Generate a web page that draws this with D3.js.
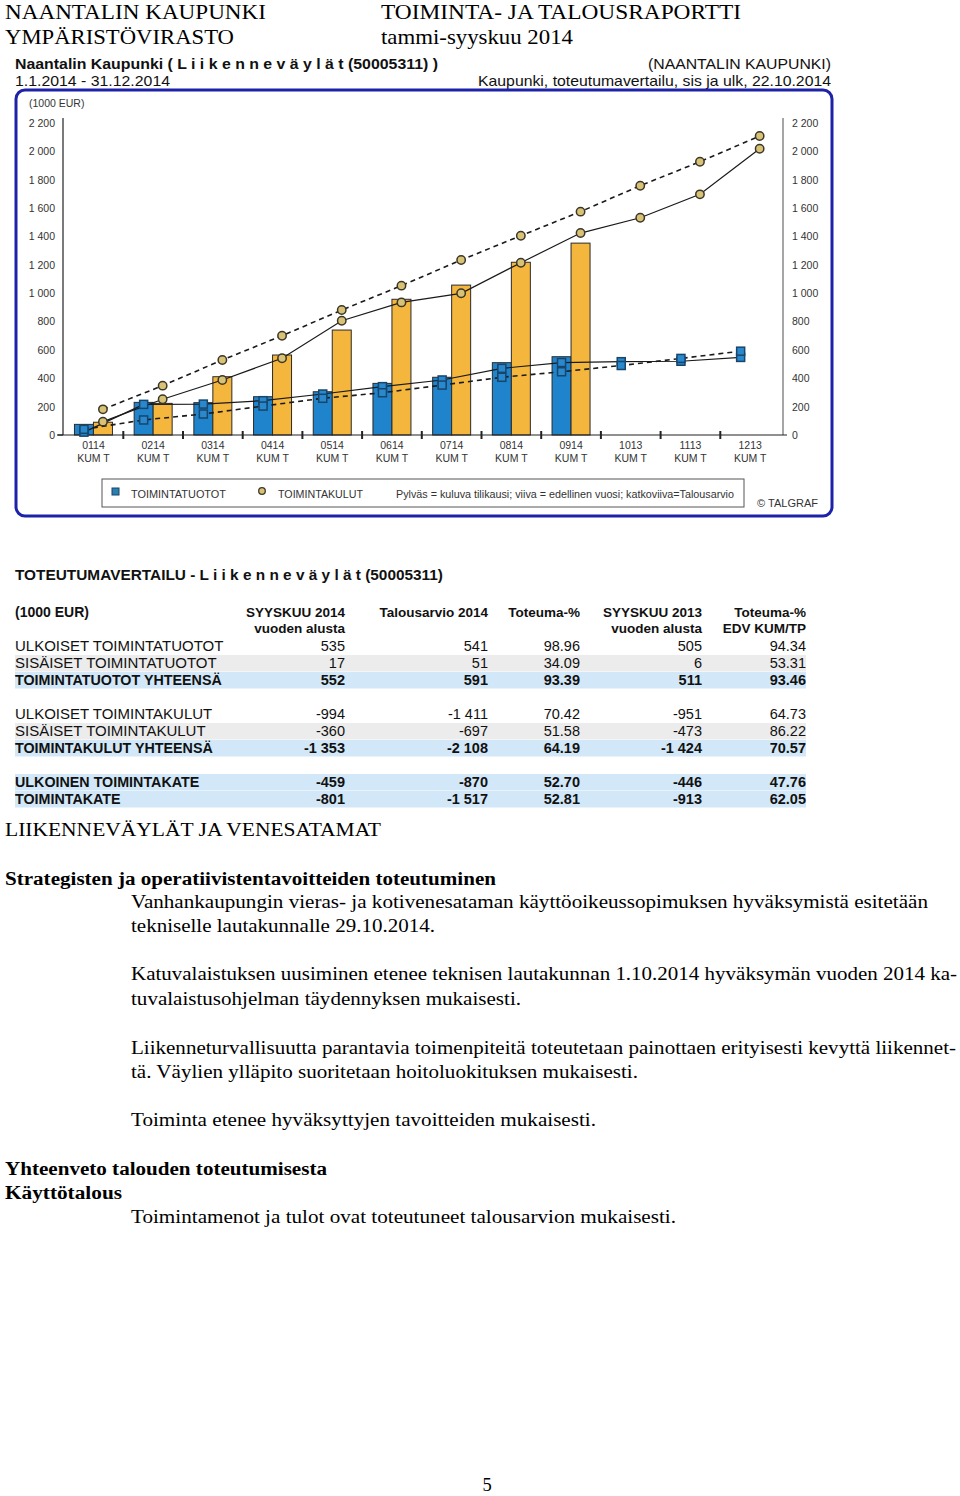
<!DOCTYPE html>
<html lang="fi">
<head>
<meta charset="UTF-8">
<title>Liikenneväylät - toiminta- ja talousraportti</title>
<style>
  body { margin: 0; background: #fff; }
  svg { display: block; }
  .serif { font-family: "Liberation Serif", "Times New Roman", serif; fill: #000; }
  .sans { font-family: "Liberation Sans", Arial, sans-serif; }
  .axis text { font-family: "Liberation Sans", Arial, sans-serif; font-size: 10.5px; fill: #333; }
</style>
</head>
<body>
<svg id="page" width="960" height="1496"></svg>
<script src="https://cdn.jsdelivr.net/npm/d3@7"></script>
<script>
// --- chart data (1000 EUR, cumulative) ---
const months = ["0114","0214","0314","0414","0514","0614","0714","0814","0914","1013","1113","1213"];
const tuototBars = [75, 230, 228, 270, 305, 364, 407, 510, 552];
const kulutBars = [90, 223, 411, 564, 740, 957, 1057, 1218, 1353];
const tuototPrevYear = [20, 216, 218, 242, 289, 341, 388, 470, 511, 517, 520, 547];
const tuototBudget = [40, 106, 148, 204, 259, 298, 352, 407, 446, 490, 540, 591];
const kulutPrevYear = [94, 252, 388, 541, 806, 935, 999, 1215, 1424, 1532, 1697, 2018];
const kulutBudget = [181, 348, 529, 700, 881, 1053, 1234, 1405, 1575, 1758, 1927, 2108];
const yTicks = [0, 200, 400, 600, 800, 1000, 1200, 1400, 1600, 1800, 2000, 2200];

// --- table data ---
const rowLabels = ["ULKOISET TOIMINTATUOTOT", "SISÄISET TOIMINTATUOTOT", "TOIMINTATUOTOT YHTEENSÄ",
  "ULKOISET TOIMINTAKULUT", "SISÄISET TOIMINTAKULUT", "TOIMINTAKULUT YHTEENSÄ",
  "ULKOINEN TOIMINTAKATE", "TOIMINTAKATE"];
const rowGroup = [0, 0, 0, 1, 1, 1, 2, 2];
const rowKind = ["plain", "sub", "total", "plain", "sub", "total", "total", "total"];
const syyskuu2014 = [535, 17, 552, -994, -360, -1353, -459, -801];
const talousarvio2014 = [541, 51, 591, -1411, -697, -2108, -870, -1517];
const toteumaPct = [98.96, 34.09, 93.39, 70.42, 51.58, 64.19, 52.70, 52.81];
const syyskuu2013 = [505, 6, 511, -951, -473, -1424, -446, -913];
const toteumaEdvPct = [94.34, 53.31, 93.46, 64.73, 86.22, 70.57, 47.76, 62.05];

const locale = d3.formatLocale({decimal: ".", thousands: " ", grouping: [3], currency: ["", ""], minus: "-"});
const fmtInt = locale.format(",d");
const fmtPct = locale.format(".2f");

const svg = d3.select("#page");
svg.append("rect").attr("width", 960).attr("height", 1496).attr("fill", "#fff");

function text(parent, x, y, str, o = {}) {
  const t = parent.append("text")
    .attr("x", x).attr("y", y)
    .attr("class", o.cls || "sans")
    .attr("font-size", o.size || 14)
    .attr("font-weight", o.bold ? "bold" : null)
    .attr("text-anchor", o.anchor || "start")
    .attr("fill", o.fill || "#000")
    .text(str);
  if (o.len) t.attr("textLength", o.len).attr("lengthAdjust", "spacingAndGlyphs");
  return t;
}

// --- page header ---
text(svg, 5, 19, "NAANTALIN KAUPUNKI", {cls: "serif", size: 21.5, len: 261});
text(svg, 5, 44, "YMPÄRISTÖVIRASTO", {cls: "serif", size: 21.5, len: 229});
text(svg, 381, 19, "TOIMINTA- JA TALOUSRAPORTTI", {cls: "serif", size: 21.5, len: 360});
text(svg, 381, 44, "tammi-syyskuu 2014", {cls: "serif", size: 21.5, len: 192});

// --- chart titles ---
text(svg, 15, 69, "Naantalin Kaupunki ( L i i k e n n e v ä y l ä t (50005311) )", {size: 14.5, bold: true, fill: "#111", len: 423});
text(svg, 15, 86, "1.1.2014 - 31.12.2014", {size: 14.5, fill: "#111", len: 155});
text(svg, 831, 69, "(NAANTALIN KAUPUNKI)", {size: 14.5, fill: "#111", anchor: "end", len: 183});
text(svg, 831, 86, "Kaupunki, toteutumavertailu, sis ja ulk, 22.10.2014", {size: 14.5, fill: "#111", anchor: "end", len: 353});

// --- chart frame ---
svg.append("rect")
  .attr("x", 16).attr("y", 90).attr("width", 816).attr("height", 426)
  .attr("rx", 9).attr("fill", "#fff")
  .attr("stroke", "#1d22a8").attr("stroke-width", 3);

const chart = svg.append("g");

const x = d3.scaleBand().domain(months).range([63.6, 780]).padding(0);
const y = d3.scaleLinear().domain([0, 2200]).range([435, 123]);
const series = d3.scaleBand().domain(["tuotot", "kulut"]).range([-19, 19]);
const cx = m => x(m) + x.bandwidth() / 2;

text(chart, 29, 107, "(1000 EUR)", {size: 10.5, fill: "#333"});

// y axes
const yLeft = chart.append("g").attr("class", "axis")
  .attr("transform", "translate(63,0)")
  .call(d3.axisLeft(y).tickValues(yTicks).tickSize(0).tickPadding(8).tickFormat(fmtInt));
yLeft.select(".domain").remove();
const yRight = chart.append("g").attr("class", "axis")
  .attr("transform", "translate(783,0)")
  .call(d3.axisRight(y).tickValues(yTicks).tickSize(0).tickPadding(9).tickFormat(fmtInt));
yRight.select(".domain").remove();

chart.append("line").attr("x1", 63).attr("x2", 63).attr("y1", 118).attr("y2", y(0))
  .attr("stroke", "#222").attr("stroke-width", 1.2);
chart.append("line").attr("x1", 783).attr("x2", 783).attr("y1", 118).attr("y2", y(0))
  .attr("stroke", "#888").attr("stroke-width", 1.5);

// bars
const barData = [];
tuototBars.forEach((v, i) => barData.push({m: months[i], s: "tuotot", v}));
kulutBars.forEach((v, i) => barData.push({m: months[i], s: "kulut", v}));
chart.selectAll("rect.bar").data(barData).enter().append("rect")
  .attr("class", "bar")
  .attr("x", d => cx(d.m) + series(d.s))
  .attr("width", series.bandwidth())
  .attr("y", d => y(d.v))
  .attr("height", d => y(0) - y(d.v))
  .attr("fill", d => d.s === "tuotot" ? "#1f84cc" : "#f5b63e")
  .attr("stroke", "#2b2b2b").attr("stroke-width", 1);

// x axis
chart.append("line").attr("x1", 58).attr("x2", 787).attr("y1", y(0)).attr("y2", y(0))
  .attr("stroke", "#222").attr("stroke-width", 1.2);
const boundaries = d3.range(1, 12).map(i => x.range()[0] + i * x.step());
chart.selectAll("line.xtick").data(boundaries).enter().append("line")
  .attr("class", "xtick")
  .attr("x1", d => d).attr("x2", d => d)
  .attr("y1", y(0) - 4).attr("y2", y(0) + 4)
  .attr("stroke", "#222").attr("stroke-width", 2);
chart.append("line").attr("x1", 57).attr("x2", 63).attr("y1", y(0)).attr("y2", y(0))
  .attr("stroke", "#222").attr("stroke-width", 1.2);

const xAxis = chart.append("g").attr("class", "axis")
  .attr("transform", `translate(0,${y(0)})`)
  .call(d3.axisBottom(x).tickSize(0).tickPadding(7));
xAxis.select(".domain").remove();
xAxis.selectAll(".tick text").each(function (d) {
  const t = d3.select(this).text(null);
  t.append("tspan").attr("x", 0).text(d);
  t.append("tspan").attr("x", 0).attr("dy", "1.15em").text("KUM T");
});

// lines (solid = previous year, dashed = budget)
const lineFor = off => d3.line().x((d, i) => cx(months[i]) + off).y(d => y(d));
const offT = series("tuotot") + series.bandwidth() / 2;
const offK = series("kulut") + series.bandwidth() / 2;
const lines = [
  {v: tuototPrevYear, off: offT, dash: null},
  {v: tuototBudget, off: offT, dash: "5,4"},
  {v: kulutPrevYear, off: offK, dash: null},
  {v: kulutBudget, off: offK, dash: "5,4"}
];
lines.forEach(l => {
  chart.append("path").datum(l.v)
    .attr("d", lineFor(l.off))
    .attr("fill", "none")
    .attr("stroke", "#1a1a1a")
    .attr("stroke-width", l.dash ? 1.6 : 1.2)
    .attr("stroke-dasharray", l.dash);
});

// markers
[tuototPrevYear, tuototBudget].forEach(arr => {
  chart.append("g").selectAll("rect").data(arr).enter().append("rect")
    .attr("x", (d, i) => cx(months[i]) + offT - 4)
    .attr("y", d => y(d) - 4)
    .attr("width", 8).attr("height", 8)
    .attr("fill", "#2a88cc").attr("stroke", "#17456b").attr("stroke-width", 1.5);
});
[kulutPrevYear, kulutBudget].forEach(arr => {
  chart.append("g").selectAll("circle").data(arr).enter().append("circle")
    .attr("cx", (d, i) => cx(months[i]) + offK)
    .attr("cy", d => y(d))
    .attr("r", 4.2)
    .attr("fill", "#d8c276").attr("stroke", "#3b3626").attr("stroke-width", 1.5);
});

// legend
chart.append("rect").attr("x", 102).attr("y", 479).attr("width", 642).attr("height", 28)
  .attr("fill", "none").attr("stroke", "#555").attr("stroke-width", 1);
chart.append("rect").attr("x", 112).attr("y", 488).attr("width", 7).attr("height", 7)
  .attr("fill", "#2a7fb0").attr("stroke", "#17456b").attr("stroke-width", 1);
text(chart, 131, 498, "TOIMINTATUOTOT", {size: 10.5, fill: "#333", len: 95});
chart.append("circle").attr("cx", 262).attr("cy", 491).attr("r", 3.3)
  .attr("fill", "#d8c276").attr("stroke", "#3b3626").attr("stroke-width", 1.3);
text(chart, 278, 498, "TOIMINTAKULUT", {size: 10.5, fill: "#333", len: 85});
text(chart, 396, 498, "Pylväs = kuluva tilikausi; viiva = edellinen vuosi; katkoviiva=Talousarvio", {size: 10, fill: "#333", len: 338});
text(chart, 757, 507, "© TALGRAF", {size: 10.5, fill: "#333", len: 61});

// --- table ---
const table = svg.append("g");
text(table, 15, 580, "TOTEUTUMAVERTAILU - L i i k e n n e v ä y l ä t (50005311)", {size: 14.5, bold: true, fill: "#111", len: 428});
text(table, 15, 617, "(1000 EUR)", {size: 14, bold: true, fill: "#111"});

const columns = [
  {head: ["SYYSKUU 2014", "vuoden alusta"], right: 345, vals: syyskuu2014, fmt: fmtInt},
  {head: ["Talousarvio 2014"], right: 488, vals: talousarvio2014, fmt: fmtInt},
  {head: ["Toteuma-%"], right: 580, vals: toteumaPct, fmt: fmtPct},
  {head: ["SYYSKUU 2013", "vuoden alusta"], right: 702, vals: syyskuu2013, fmt: fmtInt},
  {head: ["Toteuma-%", "EDV KUM/TP"], right: 806, vals: toteumaEdvPct, fmt: fmtPct}
];
columns.forEach(c => {
  c.head.forEach((h, j) => text(table, c.right, 617 + j * 16, h, {size: 13.5, bold: true, fill: "#111", anchor: "end"}));
});

const rowY = i => 651 + 17 * (i + rowGroup[i]);
rowLabels.forEach((lbl, i) => {
  const kind = rowKind[i];
  if (kind !== "plain") {
    table.append("rect")
      .attr("x", 15).attr("y", rowY(i) - 13).attr("width", 791).attr("height", 16.5)
      .attr("fill", kind === "sub" ? "#ececec" : "#d2e8f8");
  }
});
rowLabels.forEach((lbl, i) => {
  const bold = rowKind[i] === "total";
  text(table, 15, rowY(i), lbl, {size: bold ? 14.3 : 15, bold, fill: "#111"});
  columns.forEach(c => {
    text(table, c.right, rowY(i), c.fmt(c.vals[i]), {size: 14.5, bold, fill: "#111", anchor: "end"});
  });
});

// --- body text ---
const body = svg.append("g");
const paragraphs = [
  {t: "LIIKENNEVÄYLÄT JA VENESATAMAT", x: 5, y: 836, w: 376},
  {t: "Strategisten ja operatiivistentavoitteiden toteutuminen", x: 5, y: 885, w: 491, b: true},
  {t: "Vanhankaupungin vieras- ja kotivenesataman käyttöoikeussopimuksen hyväksymistä esitetään", x: 131, y: 908, w: 797},
  {t: "tekniselle lautakunnalle 29.10.2014.", x: 131, y: 932, w: 304},
  {t: "Katuvalaistuksen uusiminen etenee teknisen lautakunnan 1.10.2014 hyväksymän vuoden 2014 ka-", x: 131, y: 980, w: 826},
  {t: "tuvalaistusohjelman täydennyksen mukaisesti.", x: 131, y: 1005, w: 390},
  {t: "Liikenneturvallisuutta parantavia toimenpiteitä toteutetaan painottaen erityisesti kevyttä liikennet-", x: 131, y: 1054, w: 825},
  {t: "tä. Väylien ylläpito suoritetaan hoitoluokituksen mukaisesti.", x: 131, y: 1078, w: 507},
  {t: "Toiminta etenee hyväksyttyjen tavoitteiden mukaisesti.", x: 131, y: 1126, w: 465},
  {t: "Yhteenveto talouden toteutumisesta", x: 5, y: 1175, w: 322, b: true},
  {t: "Käyttötalous", x: 5, y: 1199, w: 117, b: true},
  {t: "Toimintamenot ja tulot ovat toteutuneet talousarvion mukaisesti.", x: 131, y: 1223, w: 545}
];
paragraphs.forEach(p => text(body, p.x, p.y, p.t, {cls: "serif", size: 18.5, bold: p.b, len: p.w}));
text(body, 487, 1491, "5", {cls: "serif", size: 18.5, anchor: "middle"});
</script>
</body>
</html>
